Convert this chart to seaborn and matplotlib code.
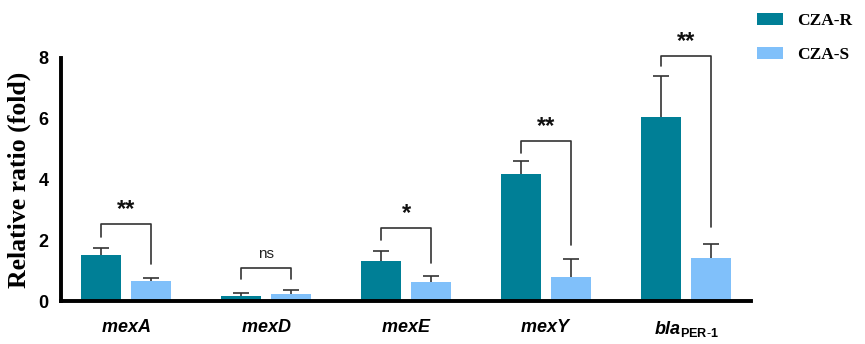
import matplotlib
matplotlib.use("Agg")
import matplotlib.pyplot as plt
import seaborn as sns
import pandas as pd
import numpy as np

genes = ["mexA", "mexD", "mexE", "mexY", "blaPER-1"]
gene_labels = [r"$\bfit{mexA}$", r"$\bfit{mexD}$", r"$\bfit{mexE}$", r"$\bfit{mexY}$", r"$\bfit{bla}_{\mathbf{PER\text{-}1}}$"]
groups = ["CZA-R", "CZA-S"]
r_mean = [1.52, 0.15, 1.31, 4.17, 6.06]
r_err = [0.21, 0.11, 0.34, 0.45, 1.34]
s_mean = [0.65, 0.23, 0.62, 0.79, 1.41]
s_err = [0.10, 0.12, 0.20, 0.58, 0.46]
sig_labels = ["**", "ns", "*", "**", "**"]
bracket_top = [2.52, 1.10, 2.40, 5.27, 8.07]
bracket_left_end = [2.12, 0.72, 2.00, 4.88, 7.73]
bracket_right_end = [1.21, 0.72, 1.26, 1.83, 2.42]

colors = {"CZA-R": "#007F96", "CZA-S": "#80C0FA"}

df = pd.DataFrame({
    "gene": genes * 2,
    "group": ["CZA-R"] * 5 + ["CZA-S"] * 5,
    "value": r_mean + s_mean,
})

sns.set_style("white")
plt.rcParams["font.family"] = ["Liberation Sans", "DejaVu Sans"]
plt.rcParams["text.color"] = "black"
plt.rcParams["axes.labelcolor"] = "black"
plt.rcParams["xtick.color"] = "black"
plt.rcParams["ytick.color"] = "black"
plt.rcParams["mathtext.fontset"] = "custom"
plt.rcParams["mathtext.it"] = "Liberation Sans:italic"
plt.rcParams["mathtext.bf"] = "Liberation Sans:bold"
plt.rcParams["mathtext.bfit"] = "Liberation Sans:bold:italic"
plt.rcParams["mathtext.rm"] = "Liberation Sans"

fig = plt.figure(figsize=(8.65, 3.44), dpi=100)
ax = fig.add_axes([61 / 865, 43 / 344, (751 - 61) / 865, (301 - 58) / 344])

sns.barplot(data=df, x="gene", y="value", hue="group", order=genes, hue_order=groups,
            palette=colors, saturation=1, width=0.714, gap=0.2, errorbar=None, ax=ax,
            legend=True, linewidth=0)

bars = ax.patches[:10]
r_x = [bars[i].get_x() + bars[i].get_width() / 2 for i in range(5)]
s_x = [bars[5 + i].get_x() + bars[5 + i].get_width() / 2 for i in range(5)]

err_kw = dict(fmt="none", ecolor="#333333", elinewidth=1.2, capsize=5.5, capthick=1.2, zorder=3)
for xs, ms, es in [(r_x, r_mean, r_err), (s_x, s_mean, s_err)]:
    eb = ax.errorbar(xs, ms, yerr=[np.zeros(5), es], **err_kw)
    caplines = eb[1]
    if len(caplines) >= 2:
        caplines[0].set_visible(False)

for i in range(5):
    ax.plot([r_x[i], r_x[i], s_x[i], s_x[i]],
            [bracket_left_end[i], bracket_top[i], bracket_top[i], bracket_right_end[i]],
            color="#333333", lw=1.2, clip_on=False, zorder=3)
    xm = (r_x[i] + s_x[i]) / 2
    if sig_labels[i] == "ns":
        ax.text(xm, bracket_top[i] + 0.22, "ns", ha="center", va="bottom", fontsize=11,
                color="#222222", clip_on=False)
    else:
        ax.text(xm, bracket_top[i] + 0.10, sig_labels[i], ha="center", va="bottom", fontsize=17,
                fontweight="bold", color="#111111", clip_on=False)

ax.set_xlim(-0.464, 4.464)
ax.set_ylim(0, 8)
ax.set_yticks([0, 2, 4, 6, 8])
ax.set_yticklabels(["0", "2", "4", "6", "8"], fontsize=13, fontweight="bold")
ax.set_xticks(range(5))
ax.set_xticklabels(gene_labels, fontsize=13)
ax.set_xlabel("")
ax.set_ylabel("Relative ratio (fold)", fontsize=18.5, fontweight="bold",
              family=["Liberation Serif"], labelpad=5)

for side in ["top", "right"]:
    ax.spines[side].set_visible(False)
for side in ["left", "bottom"]:
    ax.spines[side].set_linewidth(2.8)
    ax.spines[side].set_color("black")
ax.tick_params(axis="both", which="both", direction="out", length=7, width=2.8, color="black",
               labelcolor="black")
ax.tick_params(axis="x", pad=6)
ax.tick_params(axis="y", pad=2)

leg = ax.legend(loc="upper left", bbox_to_anchor=(750 / 865, 1 - 6 / 344), bbox_transform=fig.transFigure,
                frameon=False, prop={"family": "Liberation Serif", "weight": "bold", "size": 12.5},
                handlelength=1.5, handleheight=0.63, labelspacing=1.05, handletextpad=0.8,
                borderpad=0.4, borderaxespad=0)
for t in leg.get_texts():
    t.set_color("black")

fig.savefig("out.png", dpi=100)
